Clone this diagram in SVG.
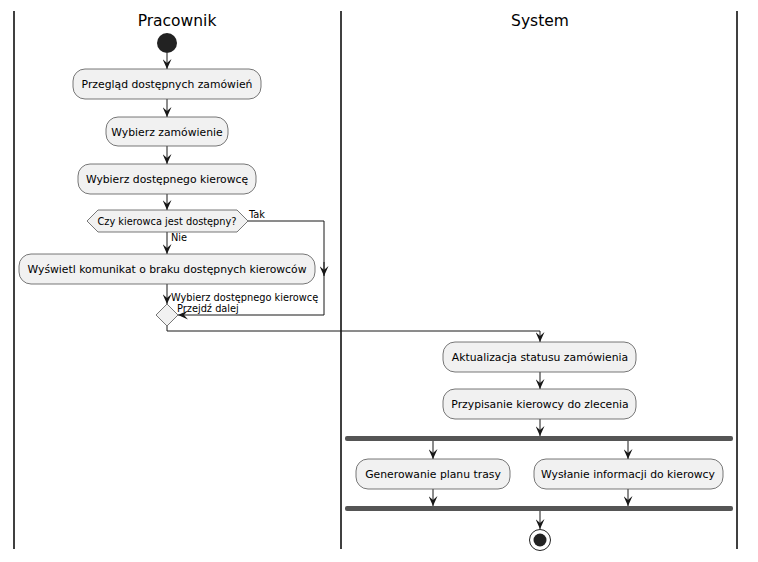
<svg xmlns="http://www.w3.org/2000/svg" width="758" height="562" viewBox="0 0 758 562">
<style>
.lane{stroke:#000;stroke-width:1.5}
.title{font-family:"DejaVu Sans",sans-serif;font-size:15.5px;fill:#000;text-anchor:middle}
.act{fill:#F1F1F1;stroke:#555;stroke-width:0.8}
.t{font-family:"DejaVu Sans",sans-serif;font-size:10.8px;fill:#000;text-anchor:middle}
.lbl{font-family:"DejaVu Sans",sans-serif;font-size:9.8px;fill:#000}
.c{fill:none;stroke:#181818;stroke-width:1}
.bar{fill:#555;stroke:none}
</style>
<defs>
<marker id="ah" viewBox="0 0 10 9" refX="10" refY="4.5" markerWidth="10" markerHeight="9" markerUnits="userSpaceOnUse" orient="auto">
<path d="M0,0 L10,4.5 L0,9 L4,4.5 Z" fill="#181818"/>
</marker>
</defs>
<rect width="758" height="562" fill="#fff"/>
<g id="lanes">
<line class="lane" x1="14" y1="11" x2="14" y2="549"/>
<line class="lane" x1="341" y1="11" x2="341" y2="549"/>
<line class="lane" x1="737" y1="11" x2="737" y2="549"/>
<text class="title" x="177" y="26">Pracownik</text>
<text class="title" x="540" y="26">System</text>
</g>
<g id="connectors">
<path class="c" d="M167,53 V69" marker-end="url(#ah)"/>
<path class="c" d="M167,99 V117" marker-end="url(#ah)"/>
<path class="c" d="M167,146 V164" marker-end="url(#ah)"/>
<path class="c" d="M167,194 V210" marker-end="url(#ah)"/>
<path class="c" d="M167,231 V254" marker-end="url(#ah)"/>
<path class="c" d="M248,221 H324 V276"/>
<path class="c" d="M324,262 V276" marker-end="url(#ah)"/>
<path class="c" d="M324,276 V315 H178" marker-end="url(#ah)"/>
<path class="c" d="M167,284 V304" marker-end="url(#ah)"/>
<path class="c" d="M167,326 V331 H540 V342" marker-end="url(#ah)"/>
<path class="c" d="M540,372 V389" marker-end="url(#ah)"/>
<path class="c" d="M540,419 V436" marker-end="url(#ah)"/>
<path class="c" d="M433,441 V459" marker-end="url(#ah)"/>
<path class="c" d="M628,441 V459" marker-end="url(#ah)"/>
<path class="c" d="M433,489 V506" marker-end="url(#ah)"/>
<path class="c" d="M628,489 V506" marker-end="url(#ah)"/>
<path class="c" d="M540,511 V529" marker-end="url(#ah)"/>
<text class="lbl" x="249" y="218">Tak</text>
<text class="lbl" x="171" y="241">Nie</text>
<text class="lbl" x="171" y="301">Wybierz dostępnego kierowcę</text>
<text class="lbl" x="177" y="312">Przejdź dalej</text>
</g>
<g id="start"><circle cx="167" cy="43" r="10" fill="#222"/></g>
<g id="a1"><rect class="act" x="73" y="69" width="188" height="30" rx="12"/><text class="t" x="167" y="88">Przegląd dostępnych zamówień</text></g>
<g id="a2"><rect class="act" x="106" y="117" width="122" height="29" rx="12"/><text class="t" x="167" y="135.5">Wybierz zamówienie</text></g>
<g id="a3"><rect class="act" x="78" y="164" width="178" height="30" rx="12"/><text class="t" x="167" y="183">Wybierz dostępnego kierowcę</text></g>
<g id="d1"><polygon class="act" points="87,221 98,210 237,210 248,221 237,232 98,232"/><text class="lbl" x="167" y="225" text-anchor="middle">Czy kierowca jest dostępny?</text></g>
<g id="a4"><rect class="act" x="19" y="254" width="296" height="30" rx="12"/><text class="t" x="167" y="273">Wyświetl komunikat o braku dostępnych kierowców</text></g>
<g id="m1"><polygon class="act" points="167,304 178,315 167,326 156,315"/></g>
<g id="a5"><rect class="act" x="443" y="342" width="193" height="30" rx="12"/><text class="t" x="540" y="361">Aktualizacja statusu zamówienia</text></g>
<g id="a6"><rect class="act" x="443" y="389" width="193" height="30" rx="12"/><text class="t" x="540" y="408">Przypisanie kierowcy do zlecenia</text></g>
<g id="fork"><rect class="bar" x="345" y="436" width="388" height="5" rx="2"/></g>
<g id="a7"><rect class="act" x="356" y="459" width="154" height="30" rx="12"/><text class="t" x="433" y="478">Generowanie planu trasy</text></g>
<g id="a8"><rect class="act" x="534" y="459" width="189" height="30" rx="12"/><text class="t" x="628" y="478">Wysłanie informacji do kierowcy</text></g>
<g id="join"><rect class="bar" x="345" y="506" width="388" height="5" rx="2"/></g>
<g id="end"><circle cx="540" cy="540" r="10.5" fill="none" stroke="#222" stroke-width="1"/><circle cx="540" cy="540" r="6.5" fill="#222"/></g>
</svg>
